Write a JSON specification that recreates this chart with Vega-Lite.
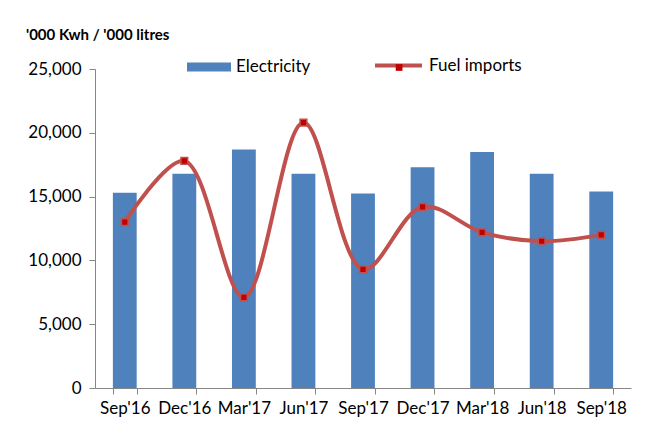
{
  "$schema": "https://vega.github.io/schema/vega-lite/v6.json",
  "width": 536,
  "height": 319,
  "autosize": "none",
  "padding": {"left": 95, "top": 69, "right": 30, "bottom": 39},
  "background": "white",
  "config": {"view": {"stroke": null}},
  "title": {"text": "'000 Kwh / '000 litres", "anchor": "start", "frame": "group", "dx": -69, "offset": -3, "fontSize": 15, "font": "Lato", "fontWeight": "bold", "color": "#000000"},
  "data": {"values": [
    {"month": "Sep'16", "electricity": 15300, "fuel": 13000},
    {"month": "Dec'16", "electricity": 16800, "fuel": 17800},
    {"month": "Mar'17", "electricity": 18700, "fuel": 7100},
    {"month": "Jun'17", "electricity": 16800, "fuel": 20800},
    {"month": "Sep'17", "electricity": 15250, "fuel": 9300},
    {"month": "Dec'17", "electricity": 17300, "fuel": 14200},
    {"month": "Mar'18", "electricity": 18500, "fuel": 12200},
    {"month": "Jun'18", "electricity": 16800, "fuel": 11500},
    {"month": "Sep'18", "electricity": 15400, "fuel": 12000}
  ]},
  "encoding": {
    "x": {"field": "month", "type": "ordinal", "sort": null,
      "scale": {"paddingInner": 0.6, "paddingOuter": 0.3},
      "axis": {"tickBand": "extent", "labelAngle": 0, "title": null, "domainColor": "#868686", "tickColor": "#868686", "tickSize": 6, "labelFont": "Lato", "labelFontSize": 17, "labelColor": "#000000", "labelPadding": 6}}
  },
  "layer": [
    {
      "mark": {"type": "bar"},
      "encoding": {
        "y": {"field": "electricity", "type": "quantitative", "scale": {"domain": [0, 25000]},
          "axis": {"values": [0, 5000, 10000, 15000, 20000, 25000], "format": ",d", "grid": false, "title": null, "domainColor": "#868686", "tickColor": "#868686", "tickSize": 6, "labelFont": "Lato", "labelFontSize": 17, "labelColor": "#000000", "labelPadding": 8}},
        "fill": {"datum": "Electricity", "type": "nominal", "scale": {"range": ["#4f81bd"]},
          "legend": {"title": null, "orient": "none", "legendX": 92, "legendY": -24, "direction": "horizontal", "symbolType": "M-1,-0.2H1V0.2H-1Z", "symbolSize": 1936, "symbolStrokeWidth": 0, "labelFont": "Lato", "labelFontSize": 17, "labelColor": "#000000", "labelOffset": 5}}
      }
    },
    {
      "mark": {"type": "line", "interpolate": "catmull-rom", "strokeWidth": 4},
      "encoding": {
        "y": {"field": "fuel", "type": "quantitative", "scale": {"domain": [0, 25000]}},
        "stroke": {"datum": "Fuel imports", "type": "nominal", "scale": {"range": ["#c0504d"]},
          "legend": {"title": null, "orient": "none", "legendX": 278, "legendY": -29, "direction": "horizontal", "symbolType": "M-1,0H1", "symbolSize": 2209, "symbolStrokeWidth": 4, "labelFont": "Lato", "labelFontSize": 17, "labelColor": "#000000", "labelOffset": 5}}
      }
    },
    {
      "mark": {"type": "point", "filled": true, "size": 45, "fill": "#c00000", "stroke": "#c0504d", "strokeWidth": 1.5, "opacity": 1},
      "encoding": {
        "y": {"field": "fuel", "type": "quantitative", "scale": {"domain": [0, 25000]}},
        "shape": {"datum": "Fuel marker", "type": "nominal", "scale": {"range": ["square"]},
          "legend": {"title": null, "orient": "none", "legendX": 295.6, "legendY": -10, "direction": "horizontal", "symbolSize": 45, "symbolFillColor": "#c00000", "symbolStrokeColor": "#c0504d", "symbolStrokeWidth": 1.5, "labelFont": "Lato", "labelFontSize": 17, "labelExpr": "''"}}
      }
    }
  ]
}
